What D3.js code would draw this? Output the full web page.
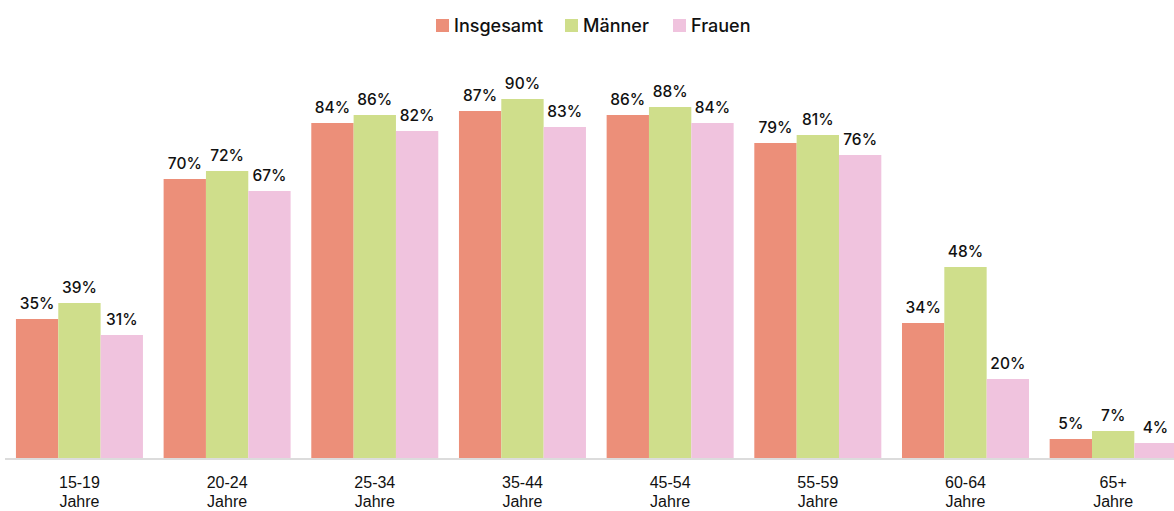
<!DOCTYPE html>
<html>
<head>
<meta charset="utf-8">
<script src="https://cdn.jsdelivr.net/npm/d3@7"></script>
<style>
  body { margin: 0; background: #fff; overflow: hidden; }
  svg { display: block; font-family: Inter, "Noto Sans", sans-serif; }
  .value-label { font-size: 15.5px; font-weight: 500; fill: #111; }
  .legend-label { font-size: 18px; font-weight: 500; fill: #111; }
  .x-axis text { font-size: 16px; font-weight: 500; fill: #111; }
</style>
</head>
<body>
<div id="chart"></div>
<script>
const categories = ['15-19', '20-24', '25-34', '35-44', '45-54', '55-59', '60-64', '65+'];
const seriesNames = ['Insgesamt', 'Männer', 'Frauen'];
const insgesamt = [35, 70, 84, 87, 86, 79, 34, 5];
const maenner = [39, 72, 86, 90, 88, 81, 48, 7];
const frauen = [31, 67, 82, 83, 84, 76, 20, 4];
const colors = ['#ec8f79', '#cfde8b', '#f0c3de'];

const width = 1174;
const height = 511;
const baseline = 459;

const series = [insgesamt, maenner, frauen];
const data = categories.map((c, i) => ({
  category: c,
  values: seriesNames.map((name, j) => ({ name: name, value: series[j][i], color: colors[j] })),
}));

const svg = d3.select('#chart')
  .append('svg')
  .attr('width', width)
  .attr('height', height);

const x0 = d3.scaleBand()
  .domain(categories)
  .range([5.6, 1187])
  .paddingInner(0.14)
  .paddingOuter(0.07);

const x1 = d3.scaleBand()
  .domain(seriesNames)
  .range([0, x0.bandwidth()]);

const y = d3.scaleLinear()
  .domain([0, 100])
  .range([baseline, 59]);

const groups = svg.append('g')
  .selectAll('g')
  .data(data)
  .enter()
  .append('g')
  .attr('transform', d => 'translate(' + x0(d.category) + ',0)');

groups.selectAll('rect')
  .data(d => d.values)
  .enter()
  .append('rect')
  .attr('x', d => x1(d.name))
  .attr('y', d => y(d.value))
  .attr('width', x1.bandwidth())
  .attr('height', d => baseline - y(d.value))
  .style('fill', d => d.color);

groups.selectAll('text')
  .data(d => d.values)
  .enter()
  .append('text')
  .attr('class', 'value-label')
  .attr('x', d => x1(d.name) + x1.bandwidth() / 2)
  .attr('y', d => y(d.value) - 10)
  .attr('text-anchor', 'middle')
  .text(d => d.value + '%');

// x axis
const xAxis = svg.append('g')
  .attr('class', 'x-axis')
  .attr('transform', 'translate(0,' + baseline + ')')
  .call(d3.axisBottom(x0).tickSize(0).tickSizeOuter(0).tickPadding(0));

xAxis.select('.domain')
  .attr('d', 'M5,0H' + width)
  .style('stroke', '#dcdcdc')
  .style('stroke-width', 2);

// two-line labels, the second line sits right at the bottom edge
xAxis.selectAll('.tick text').remove();
xAxis.selectAll('.tick')
  .append('text')
  .attr('text-anchor', 'middle')
  .selectAll('tspan')
  .data(d => [d, 'Jahre'])
  .enter()
  .append('tspan')
  .attr('x', 0)
  .attr('y', (d, i) => 29 + i * 19)
  .text(d => d);

// legend
const legendItems = [
  { name: seriesNames[0], color: colors[0], x: 436 },
  { name: seriesNames[1], color: colors[1], x: 565 },
  { name: seriesNames[2], color: colors[2], x: 673 },
];

const legend = svg.append('g')
  .selectAll('g')
  .data(legendItems)
  .enter()
  .append('g')
  .attr('transform', d => 'translate(' + d.x + ',19)');

legend.append('rect')
  .attr('width', 13)
  .attr('height', 13)
  .style('fill', d => d.color);

legend.append('text')
  .attr('class', 'legend-label')
  .attr('x', 18)
  .attr('y', 12.5)
  .text(d => d.name);
</script>
</body>
</html>
